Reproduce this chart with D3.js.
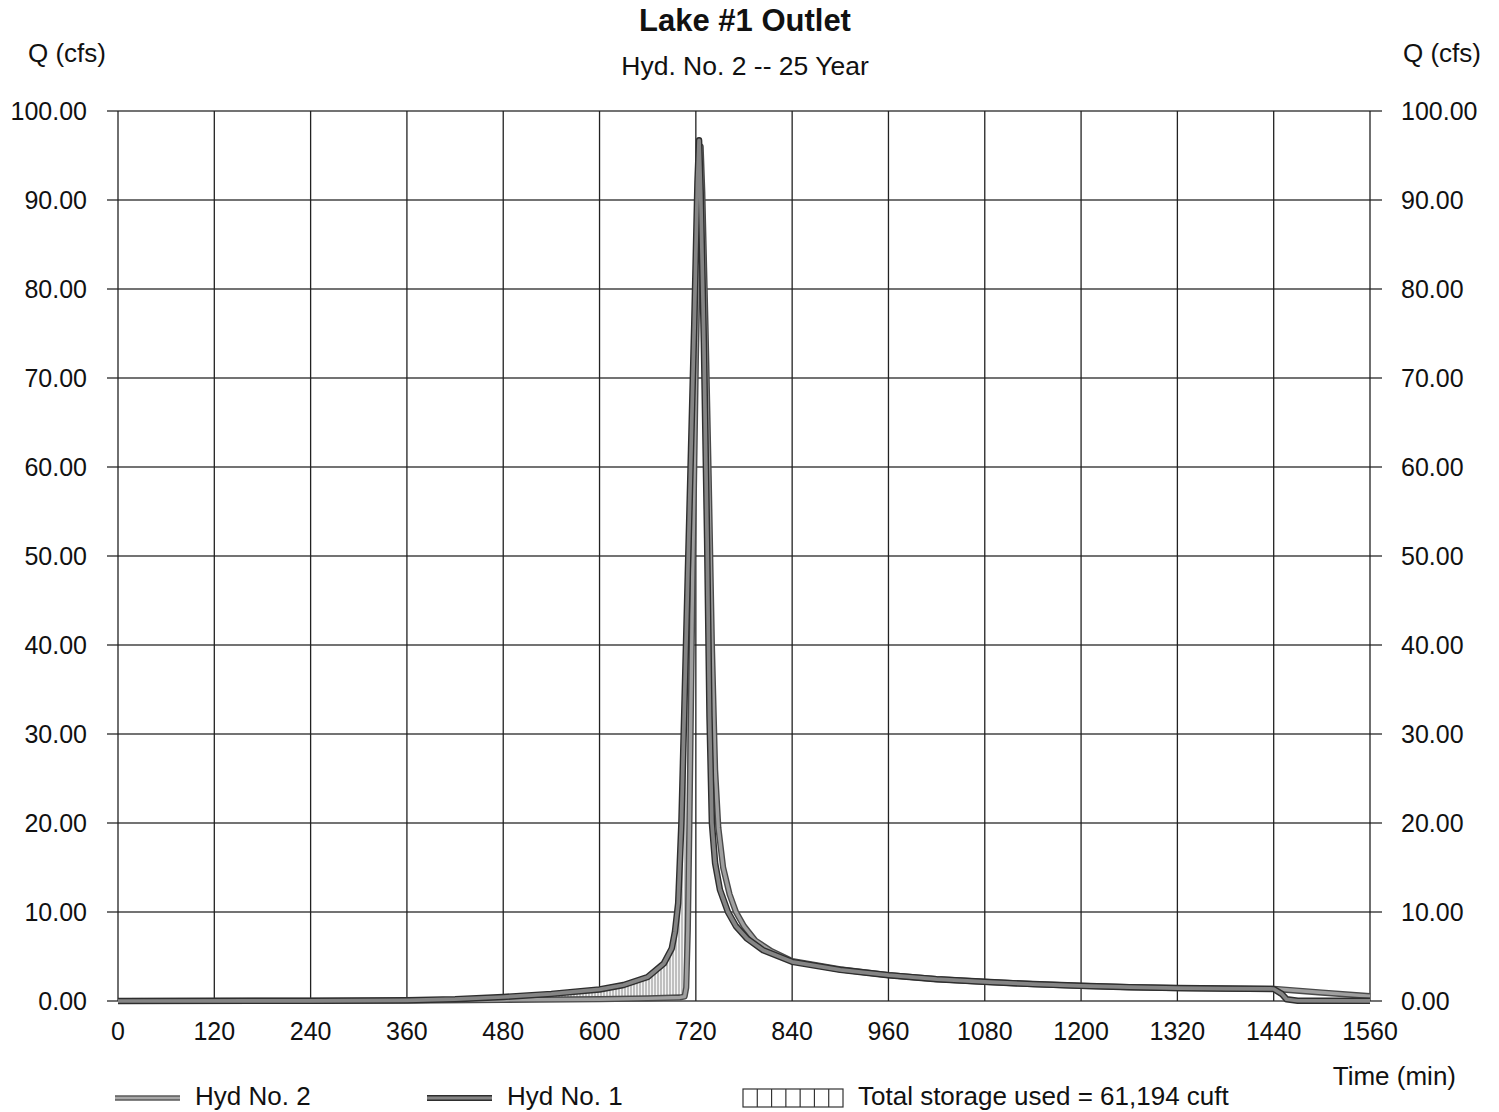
<!DOCTYPE html>
<html>
<head>
<meta charset="utf-8">
<script src="https://cdn.jsdelivr.net/npm/d3@7"></script>
<style>
  body { margin: 0; background: #fff; }
  text { font-family: "Liberation Sans", Arial, sans-serif; fill: #111; }
</style>
</head>
<body>
<div id="chart"></div>
<script>
// hydrograph values: [time (min), Q (cfs)]
const hydNo1 = [
  [0, 0], [240, 0.02], [360, 0.08], [420, 0.2], [480, 0.45], [540, 0.8],
  [600, 1.3], [630, 1.8], [660, 2.7], [680, 4.2], [690, 5.9], [694, 7.8],
  [698, 11], [702, 20], [706, 34], [710, 48], [714, 62], [718, 76],
  [722, 92], [724, 96.7], [726, 91], [730, 74], [734, 52], [737, 32],
  [740, 20], [744, 15.5], [750, 12.5], [760, 10], [770, 8.4], [784, 7],
  [804, 5.7], [840, 4.4], [900, 3.5], [960, 2.9], [1020, 2.45], [1080, 2.15],
  [1140, 1.9], [1200, 1.7], [1260, 1.55], [1320, 1.45], [1380, 1.4],
  [1440, 1.35], [1450, 0.8], [1456, 0.2], [1470, 0.03], [1560, 0.02]
];
const hydNo2 = [
  [0, 0], [360, 0.03], [480, 0.12], [600, 0.2], [660, 0.3], [700, 0.4],
  [706, 0.5], [708, 1.5], [710, 8], [712, 20], [716, 48], [720, 72],
  [724, 90], [726, 96], [728, 91], [732, 76], [736, 59], [740, 40],
  [744, 26], [748, 19.5], [754, 15], [762, 12], [770, 10], [780, 8.4],
  [794, 6.8], [814, 5.6], [840, 4.5], [900, 3.55], [960, 2.9], [1020, 2.45],
  [1080, 2.15], [1140, 1.9], [1200, 1.7], [1260, 1.55], [1320, 1.45],
  [1380, 1.4], [1440, 1.37], [1500, 0.95], [1560, 0.55]
];
const xTicks = [0, 120, 240, 360, 480, 600, 720, 840, 960, 1080, 1200, 1320, 1440, 1560];
const yTicks = [0, 10, 20, 30, 40, 50, 60, 70, 80, 90, 100];
const storageEnd = 726; // storage fill only on the rising limb
const legendLabels = ["Hyd No. 2", "Hyd No. 1", "Total storage used = 61,194 cuft"];

const width = 1499, height = 1112;
const m = { left: 118, right: 129, top: 111, bottom: 111 };

const svg = d3.select("#chart").append("svg")
  .attr("width", width).attr("height", height);

const x = d3.scaleLinear().domain([0, 1560]).range([m.left, width - m.right]);
const y = d3.scaleLinear().domain([0, 100]).range([height - m.bottom, m.top]);

// hatch pattern for storage
const defs = svg.append("defs");
const pat = defs.append("pattern")
  .attr("id", "hatch").attr("patternUnits", "userSpaceOnUse")
  .attr("width", 3).attr("height", 3);
pat.append("rect").attr("width", 3).attr("height", 3).attr("fill", "#f4f4f4");
pat.append("line").attr("x1", 1).attr("x2", 1).attr("y1", 0).attr("y2", 3)
  .attr("stroke", "#8a8a8a").attr("stroke-width", 1);

// grid
svg.append("g").selectAll("line").data(yTicks).join("line")
  .attr("x1", m.left - 11).attr("x2", width - m.right + 12)
  .attr("y1", d => y(d)).attr("y2", d => y(d))
  .attr("stroke", "#444").attr("stroke-width", 1.3);
svg.append("g").selectAll("line").data(xTicks).join("line")
  .attr("x1", d => x(d)).attr("x2", d => x(d))
  .attr("y1", m.top).attr("y2", y(0))
  .attr("stroke", "#222").attr("stroke-width", 1.3);

// storage area: under Hyd No. 1, above Hyd No. 2
const clipArea = d3.area()
  .x(d => x(d[0])).y0(d => y(d[1])).y1(m.top - 5);
defs.append("clipPath").attr("id", "aboveOut")
  .append("path").attr("d", clipArea(hydNo2.filter(d => d[0] <= storageEnd)));
const fillArea = d3.area()
  .x(d => x(d[0])).y0(y(0)).y1(d => y(d[1]));
svg.append("path")
  .attr("d", fillArea(hydNo1.filter(d => d[0] <= storageEnd)))
  .attr("fill", "url(#hatch)")
  .attr("clip-path", "url(#aboveOut)");

const line = d3.line().x(d => x(d[0])).y(d => y(d[1]));

function drawHyd(data, outer, inner, w) {
  svg.append("path").attr("d", line(data)).attr("fill", "none")
    .attr("stroke", outer).attr("stroke-width", w).attr("stroke-linejoin", "round");
  svg.append("path").attr("d", line(data)).attr("fill", "none")
    .attr("stroke", inner).attr("stroke-width", w - 2.8).attr("stroke-linejoin", "round");
}
drawHyd(hydNo2, "#4a4a4a", "#a0a0a0", 6.2);
drawHyd(hydNo1, "#2e2e2e", "#858585", 6.5);

// axis labels
svg.append("g").selectAll("text").data(yTicks).join("text")
  .attr("x", 87).attr("y", d => y(d) + 9)
  .attr("text-anchor", "end").attr("font-size", 25)
  .text(d => d.toFixed(2));
svg.append("g").selectAll("text").data(yTicks).join("text")
  .attr("x", 1401).attr("y", d => y(d) + 9)
  .attr("font-size", 25)
  .text(d => d.toFixed(2));
svg.append("g").selectAll("text").data(xTicks).join("text")
  .attr("x", d => x(d)).attr("y", 1040)
  .attr("text-anchor", "middle").attr("font-size", 25)
  .text(d => d);

svg.append("text").attr("x", 745).attr("y", 31).attr("text-anchor", "middle")
  .attr("font-size", 31).attr("font-weight", "bold").text("Lake #1 Outlet");
svg.append("text").attr("x", 745).attr("y", 75).attr("text-anchor", "middle")
  .attr("font-size", 26.5).text("Hyd. No. 2 -- 25 Year");
svg.append("text").attr("x", 28).attr("y", 62).attr("font-size", 26).text("Q (cfs)");
svg.append("text").attr("x", 1481).attr("y", 62).attr("text-anchor", "end")
  .attr("font-size", 26).text("Q (cfs)");
svg.append("text").attr("x", 1456).attr("y", 1085).attr("text-anchor", "end")
  .attr("font-size", 26).text("Time (min)");

// legend
const ly = 1098;
const lg = svg.append("g");
lg.append("line").attr("x1", 115).attr("x2", 180).attr("y1", ly).attr("y2", ly)
  .attr("stroke", "#5a5a5a").attr("stroke-width", 5.5);
lg.append("line").attr("x1", 115).attr("x2", 180).attr("y1", ly).attr("y2", ly)
  .attr("stroke", "#a8a8a8").attr("stroke-width", 2.6);
lg.append("line").attr("x1", 427).attr("x2", 492).attr("y1", ly).attr("y2", ly)
  .attr("stroke", "#2e2e2e").attr("stroke-width", 6);
lg.append("line").attr("x1", 427).attr("x2", 492).attr("y1", ly).attr("y2", ly)
  .attr("stroke", "#858585").attr("stroke-width", 2.8);
lg.append("rect").attr("x", 743).attr("y", 1089).attr("width", 100).attr("height", 18)
  .attr("fill", "#fff").attr("stroke", "#333").attr("stroke-width", 1.2);
lg.selectAll("line.cell").data(d3.range(1, 7)).join("line").attr("class", "cell")
  .attr("x1", d => 743 + d * 100 / 7).attr("x2", d => 743 + d * 100 / 7)
  .attr("y1", 1089).attr("y2", 1107)
  .attr("stroke", "#333").attr("stroke-width", 1.2);
lg.selectAll("text").data(legendLabels).join("text")
  .attr("x", (d, i) => [195, 507, 858][i]).attr("y", 1105)
  .attr("font-size", 26).text(d => d);
</script>
</body>
</html>
